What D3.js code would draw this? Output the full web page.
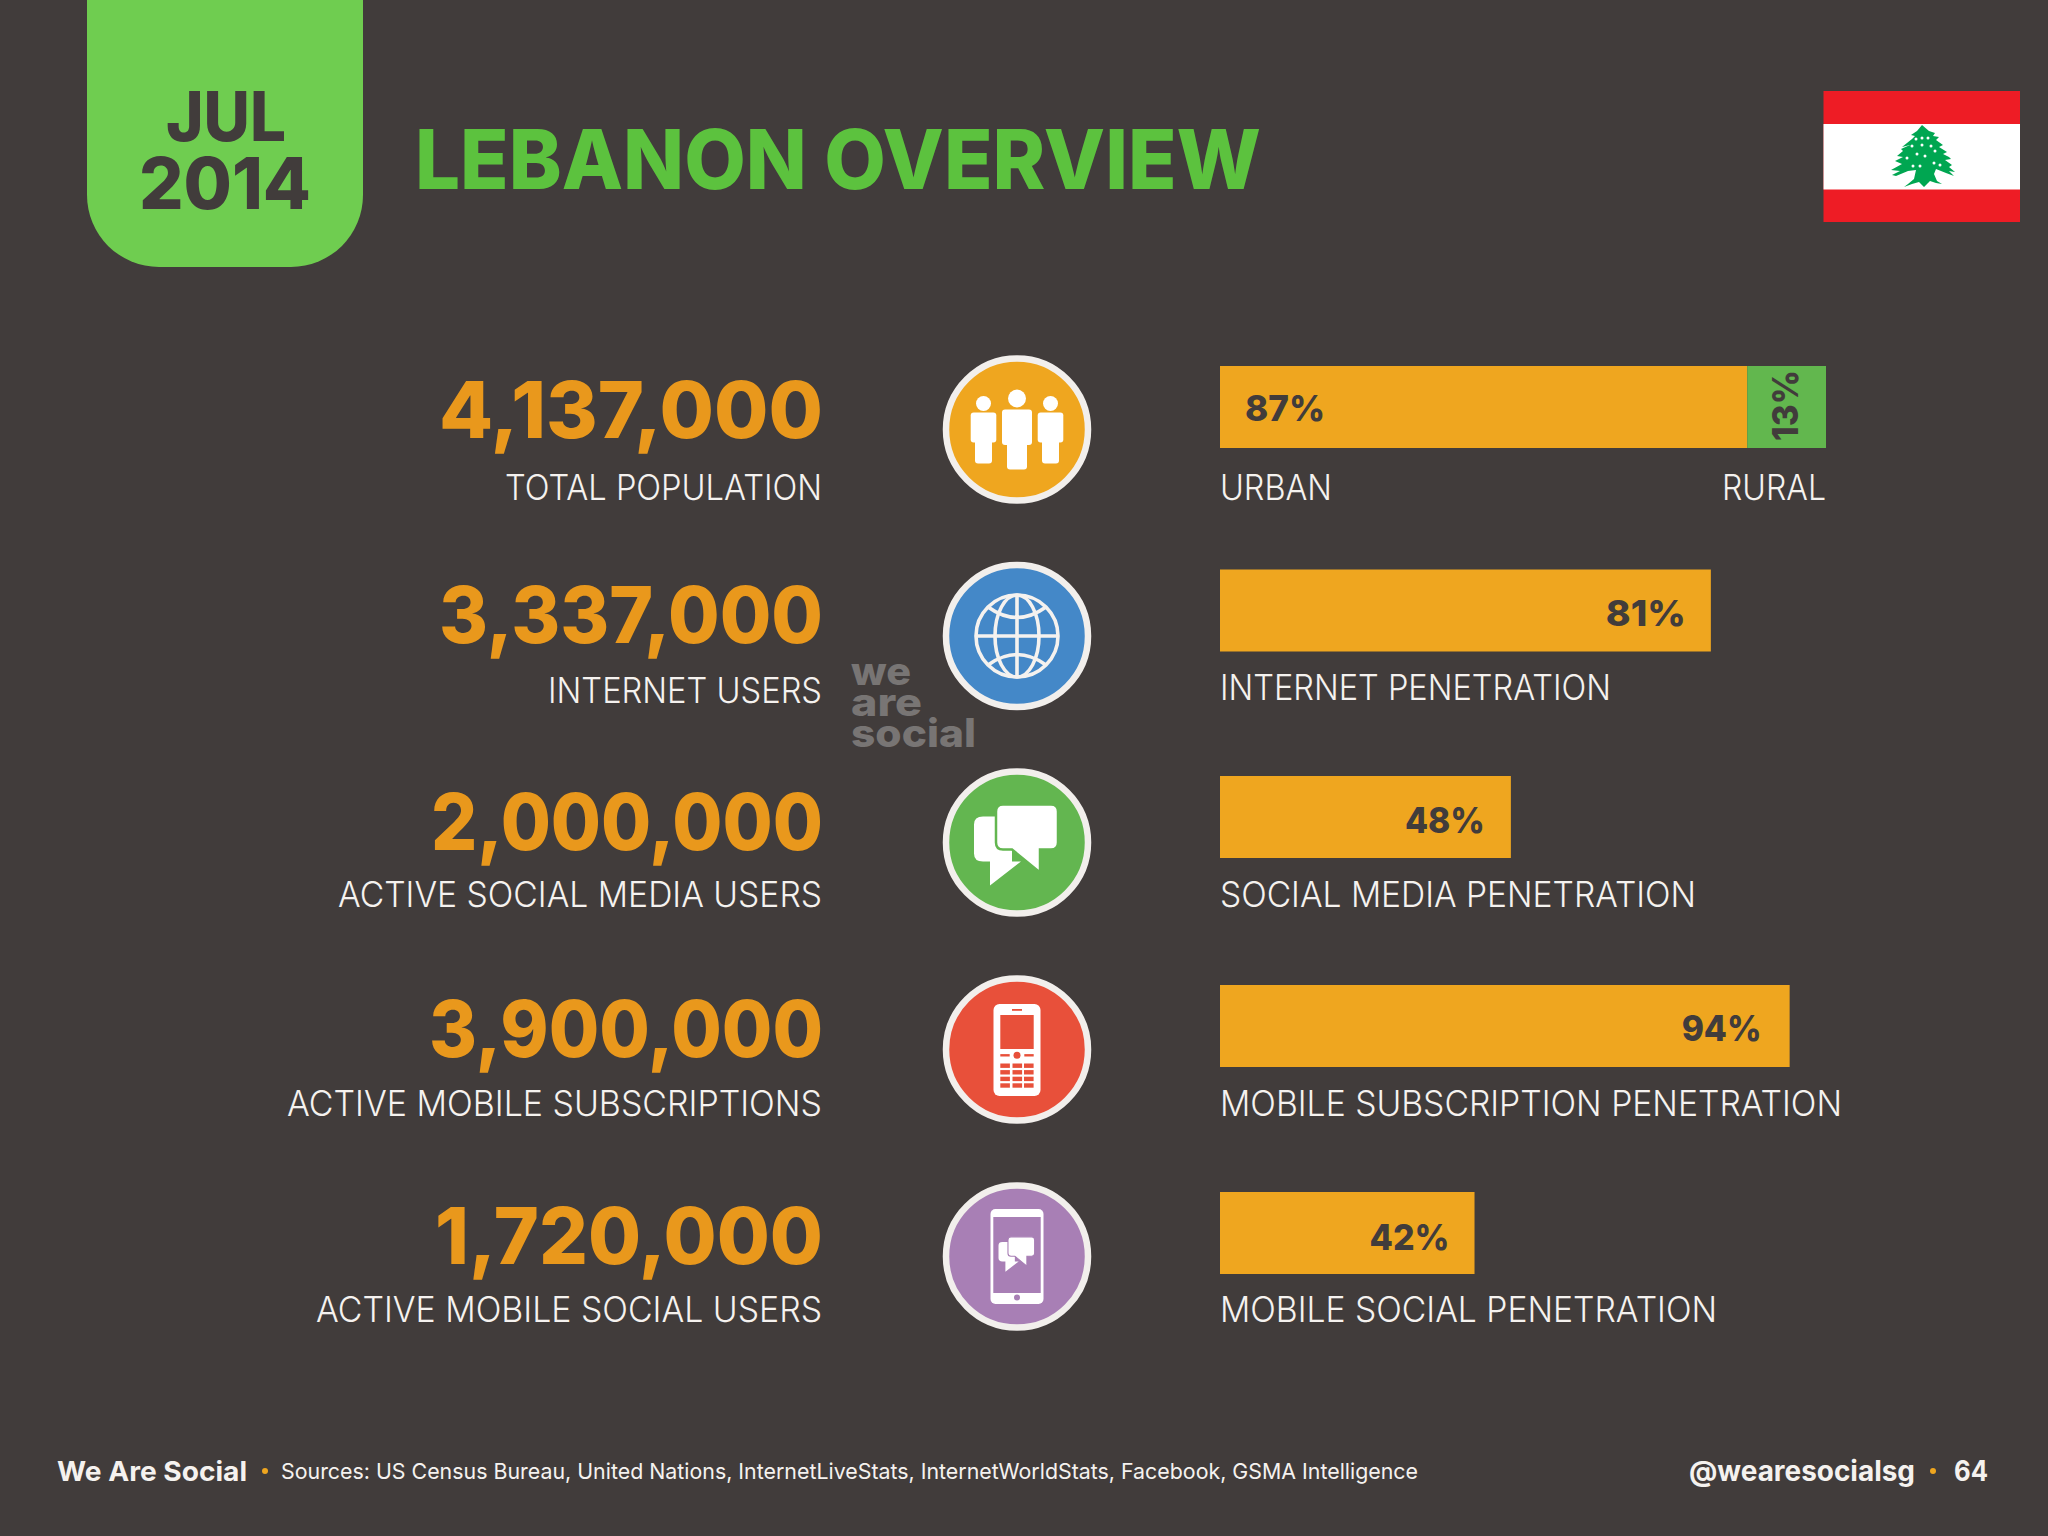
<!DOCTYPE html>
<html>
<head>
<meta charset="utf-8">
<script src="https://cdn.jsdelivr.net/npm/d3@7"></script>
<style>
html, body { margin: 0; padding: 0; background: #413c3b; }
svg { display: block; }
text { font-family: Inter, "Liberation Sans", sans-serif; }
</style>
</head>
<body>
<div id="chart"></div>
<script>
const headlineValues = [4137000, 3337000, 2000000, 3900000, 1720000];
const headlineLabels = ["TOTAL POPULATION", "INTERNET USERS", "ACTIVE SOCIAL MEDIA USERS", "ACTIVE MOBILE SUBSCRIPTIONS", "ACTIVE MOBILE SOCIAL USERS"];
const penetrationValues = [87, 81, 48, 94, 42];
const penetrationLabels = ["URBAN", "INTERNET PENETRATION", "SOCIAL MEDIA PENETRATION", "MOBILE SUBSCRIPTION PENETRATION", "MOBILE SOCIAL PENETRATION"];
const ruralValue = 13;
const ruralLabel = "RURAL";
const sources = "Sources: US Census Bureau, United Nations, InternetLiveStats, InternetWorldStats, Facebook, GSMA Intelligence";

// layout, measured per row because the slide is not quite regular
const barTops = [366, 569.5, 776, 985, 1192];
const numberBase = [438, 643, 850, 1056.5, 1264];
const numberWidths = [384, 384, 392, 394, 388];
const labelBase = [500, 703, 907, 1116, 1322];
const labelWidths = [317, 274, 484, 535, 506];
const barLabelBase = [500, 700, 907, 1116, 1322];
const barLabelWidths = [112, 391, 476, 622, 497];
const percentBase = [421, 626, 833, 1041, 1250];
const percentInset = [0, 25, 26, 28, 25];
const iconY = [429.5, 636, 842.5, 1049.5, 1256.5];
const iconColors = ["#efa61f", "#4488c8", "#63b650", "#e8503a", "#a87fb5"];

const bg = "#413c3b";
const orange = "#efa61f";
const white = "#f5f2ef";

const width = 2048, height = 1536;
const barHeight = 82, iconX = 1017;

const svg = d3.select("#chart").append("svg")
	.attr("width", width)
	.attr("height", height)
	.attr("viewBox", [0, 0, width, height]);

svg.append("rect").attr("width", width).attr("height", height).attr("fill", bg);

const x = d3.scaleLinear().domain([0, 100]).range([1220, 1826]);
const formatNumber = d3.format(",");
const rows = d3.range(headlineValues.length);

// the slide font is narrower or wider than ours, so squeeze to the measured width
function fit(sel, w) {
	return sel.attr("textLength", w).attr("lengthAdjust", "spacingAndGlyphs");
}

// date tab
svg.append("path")
	.attr("d", "M87,0H363V195A72,72 0 0 1 291,267H159A72,72 0 0 1 87,195Z")
	.attr("fill", "#6fcd50");
svg.append("text").text("JUL")
	.attr("x", 226).attr("y", 141).attr("text-anchor", "middle")
	.attr("font-size", 69).attr("font-weight", 800).attr("fill", bg)
	.call(fit, 120);
svg.append("text").text("2014")
	.attr("x", 225).attr("y", 209).attr("text-anchor", "middle")
	.attr("font-size", 71).attr("font-weight", 800).attr("fill", bg)
	.call(fit, 172);

svg.append("text").text("LEBANON OVERVIEW")
	.attr("x", 415).attr("y", 188.5)
	.attr("font-size", 83).attr("font-weight", 800).attr("fill", "#5cc23e")
	.call(fit, 846);

// flag
const flag = svg.append("g").attr("transform", "translate(1823.5,91)");
flag.append("rect").attr("width", 196.5).attr("height", 131).attr("fill", "#ee1c25");
flag.append("rect").attr("y", 33).attr("width", 196.5).attr("height", 65.5).attr("fill", "#ffffff");
const cedar = flag.append("g").attr("transform", "translate(98.5,33)");
cedar.append("path")
	.attr("fill", "#00a651")
	.attr("d", "M0,1 L7,7 L13,9 L11,12 L17,13 L14,16 L21,21 L17,23 L25,28 L21,30 L27,33 L29,35 L23,36 L30,41 L27,43 L33,48 L27,47 L32,52 L24,49 L14,45 L12,50 L15,57 L20,60 L14,59 L8,57 L2,63 L-3,58 L-10,60 L-18,63 L-14,60 L-8,55 L-6,46 L-14,47 L-26,52 L-30,51 L-22,47 L-31,46 L-20,40 L-27,37 L-19,33 L-25,32 L-19,27 L-21,25 L-12,21 L-20,23 L-10,15 L-7,12 L-11,11 L-5,7 Z");
cedar.selectAll("circle")
	.data([[-6, 15], [0, 14], [6, 14], [-10, 22], [0, 21], [9, 22], [-15, 34], [-5, 30], [3, 32], [13, 27], [-9, 42], [-2, 42], [12, 39], [18, 41]])
	.join("circle")
	.attr("cx", d => d[0]).attr("cy", d => d[1]).attr("r", 1.5).attr("fill", "#ffffff");

// left column: big numbers and labels
svg.selectAll("text.number")
	.data(rows)
	.join("text")
	.attr("class", "number")
	.attr("x", 823).attr("y", i => numberBase[i])
	.attr("text-anchor", "end")
	.attr("font-size", 79).attr("font-weight", 800).attr("fill", "#e9981c")
	.attr("textLength", i => numberWidths[i]).attr("lengthAdjust", "spacingAndGlyphs")
	.text(i => formatNumber(headlineValues[i]));

svg.selectAll("text.metric")
	.data(rows)
	.join("text")
	.attr("class", "metric")
	.attr("x", 822).attr("y", i => labelBase[i])
	.attr("text-anchor", "end")
	.attr("font-size", 36).attr("font-weight", 300).attr("fill", white)
	.attr("textLength", i => labelWidths[i]).attr("lengthAdjust", "spacingAndGlyphs")
	.text(i => headlineLabels[i]);

// watermark
const markWidths = [60, 71, 125];
svg.append("g")
	.attr("font-weight", 800).attr("font-size", 39).attr("fill", "#787574")
	.selectAll("text")
	.data(["we", "are", "social"])
	.join("text")
	.attr("x", 851).attr("y", (d, i) => 685 + i * 30.8)
	.attr("textLength", (d, i) => markWidths[i]).attr("lengthAdjust", "spacingAndGlyphs")
	.text(d => d);

// icons
const icons = svg.selectAll("g.icon")
	.data(rows)
	.join("g")
	.attr("class", "icon")
	.attr("transform", i => `translate(${iconX},${iconY[i]})`);
icons.append("circle")
	.attr("r", 71)
	.attr("fill", i => iconColors[i])
	.attr("stroke", "#f2efec")
	.attr("stroke-width", 6.5);

function person(g, dx, headY, headR, bodyW, bodyTop, bodyBottom, legW, legBottom) {
	g.append("circle").attr("cx", dx).attr("cy", headY).attr("r", headR).attr("fill", "#fff");
	g.append("rect").attr("x", dx - bodyW).attr("y", bodyTop).attr("width", bodyW * 2).attr("height", bodyBottom - bodyTop).attr("rx", 3).attr("fill", "#fff");
	g.append("rect").attr("x", dx - legW).attr("y", bodyBottom - 4).attr("width", legW * 2).attr("height", legBottom - bodyBottom + 4).attr("rx", 3).attr("fill", "#fff");
}

const people = icons.filter(i => i === 0);
person(people, -33.5, -26, 7.5, 12.8, -17, 13, 8.5, 34);
person(people, 33.5, -26, 7.5, 12.8, -17, 13, 8.5, 34);
person(people, 0, -31, 9, 15, -20, 15.5, 10, 40);

const globe = icons.filter(i => i === 1).append("g")
	.attr("fill", "none").attr("stroke", "#f5f2ef").attr("stroke-width", 3.6);
globe.append("circle").attr("r", 41);
globe.append("ellipse").attr("rx", 22).attr("ry", 41);
globe.append("path").attr("d", "M0,-41V41M-41,0H41M-29,-29Q0,-8 29,-29M-29,29Q0,8 29,29");

function chat(g, fill) {
	g.append("path").attr("fill", "#fff")
		.attr("d", "M-34,-29H-5V16H4L-27,40V16H-34Q-43,16 -43,8V-21Q-43,-29 -34,-29Z");
	g.append("path").attr("fill", "#fff").attr("stroke", fill).attr("stroke-width", 2.5)
		.attr("d", "M-14,-41H34Q41,-41 41,-34V-3Q41,4 34,4H23V27L-5,4H-14Q-21,4 -21,-3V-34Q-21,-41 -14,-41Z");
}

chat(icons.filter(i => i === 2).append("g").attr("transform", "translate(0,3)"), iconColors[2]);

const phone = icons.filter(i => i === 3);
phone.append("rect").attr("x", -23.5).attr("y", -45.5).attr("width", 47).attr("height", 92).attr("rx", 6).attr("fill", "#fff");
phone.append("rect").attr("x", -16.7).attr("y", -34.5).attr("width", 33.4).attr("height", 34).attr("fill", iconColors[3]);
phone.append("rect").attr("x", -5).attr("y", -40.5).attr("width", 10).attr("height", 1.8).attr("fill", iconColors[3]);
phone.append("circle").attr("cy", 5.7).attr("r", 3.5).attr("fill", iconColors[3]);
phone.selectAll("rect.side")
	.data([-16.7, 7.3])
	.join("rect")
	.attr("class", "side")
	.attr("x", d => d).attr("y", 4.6).attr("width", 9.4).attr("height", 2.4).attr("fill", iconColors[3]);
const keyCols = [-16.7, -4.5, 7];
const keyRows = [14, 20.6, 27.2, 33.8];
phone.selectAll("rect.key")
	.data(d3.cross(keyCols, keyRows))
	.join("rect")
	.attr("class", "key")
	.attr("x", d => d[0]).attr("y", d => d[1]).attr("width", 9.6).attr("height", 4.4).attr("fill", iconColors[3]);

const mobile = icons.filter(i => i === 4);
mobile.append("rect").attr("x", -26.5).attr("y", -47.5).attr("width", 53).attr("height", 95).attr("rx", 5).attr("fill", "#fff");
mobile.append("rect").attr("x", -23.7).attr("y", -39.5).attr("width", 47.4).attr("height", 76).attr("fill", iconColors[4]);
mobile.append("circle").attr("cy", 41).attr("r", 3).attr("fill", iconColors[4]);
chat(mobile.append("g").attr("transform", "translate(0,-2) scale(0.43)"), iconColors[4]);

// right column: bars
const bars = svg.append("g");
bars.selectAll("rect")
	.data(rows)
	.join("rect")
	.attr("x", x(0))
	.attr("y", i => barTops[i])
	.attr("width", i => x(penetrationValues[i]) - x(0))
	.attr("height", barHeight)
	.attr("fill", orange);

bars.append("rect")
	.attr("x", x(penetrationValues[0]))
	.attr("y", barTops[0])
	.attr("width", x(penetrationValues[0] + ruralValue) - x(penetrationValues[0]))
	.attr("height", barHeight)
	.attr("fill", "#62b74e");

svg.selectAll("text.percent")
	.data(rows)
	.join("text")
	.attr("class", "percent")
	.attr("x", i => i === 0 ? x(0) + 25 : x(penetrationValues[i]) - percentInset[i])
	.attr("y", i => percentBase[i])
	.attr("text-anchor", i => i === 0 ? "start" : "end")
	.attr("font-size", 36).attr("font-weight", 800).attr("fill", bg)
	.attr("textLength", 80).attr("lengthAdjust", "spacingAndGlyphs")
	.text(i => penetrationValues[i] + "%");

svg.append("text").text(ruralValue + "%")
	.attr("transform", "translate(1798,441) rotate(-90)")
	.attr("font-size", 36).attr("font-weight", 800).attr("fill", bg)
	.call(fit, 71);

svg.selectAll("text.barlabel")
	.data(rows)
	.join("text")
	.attr("class", "barlabel")
	.attr("x", 1220).attr("y", i => barLabelBase[i])
	.attr("font-size", 36).attr("font-weight", 300).attr("fill", white)
	.attr("textLength", i => barLabelWidths[i]).attr("lengthAdjust", "spacingAndGlyphs")
	.text(i => penetrationLabels[i]);

svg.append("text").text(ruralLabel)
	.attr("x", 1826).attr("y", barLabelBase[0])
	.attr("text-anchor", "end")
	.attr("font-size", 36).attr("font-weight", 300).attr("fill", white)
	.call(fit, 104);

// footer
svg.append("text").text("We Are Social")
	.attr("x", 57).attr("y", 1481)
	.attr("font-size", 27).attr("font-weight", 700).attr("fill", white)
	.call(fit, 190);
svg.append("circle").attr("cx", 265).attr("cy", 1471).attr("r", 3).attr("fill", orange);
svg.append("text").text(sources)
	.attr("x", 281).attr("y", 1479)
	.attr("font-size", 22).attr("font-weight", 400).attr("fill", white)
	.call(fit, 1137);
svg.append("text").text("@wearesocialsg")
	.attr("x", 1689).attr("y", 1481)
	.attr("font-size", 28).attr("font-weight", 700).attr("fill", white)
	.call(fit, 226);
svg.append("circle").attr("cx", 1933).attr("cy", 1471).attr("r", 3).attr("fill", orange);
svg.append("text").text("64")
	.attr("x", 1954).attr("y", 1481)
	.attr("font-size", 28).attr("font-weight", 700).attr("fill", white)
	.call(fit, 34);
</script>
</body>
</html>
